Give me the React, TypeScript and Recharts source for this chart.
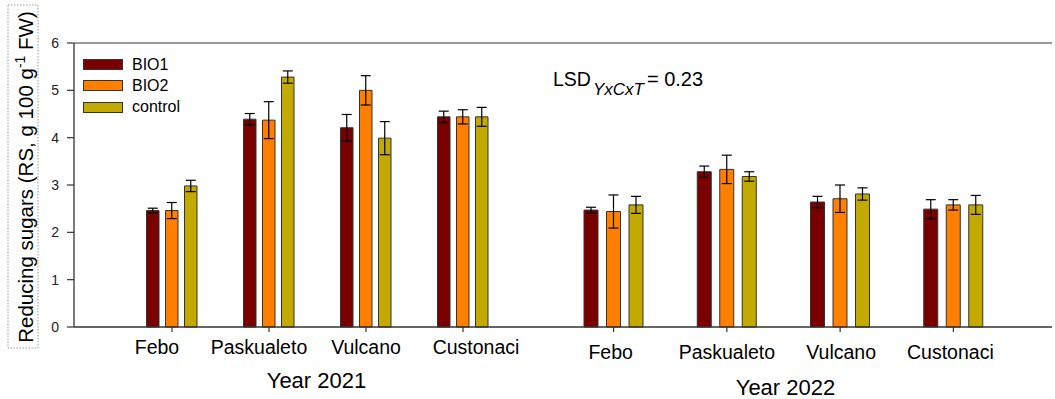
import React from 'react';
import { BarChart, Bar, XAxis, YAxis, ErrorBar, ReferenceLine, Legend, Customized } from 'recharts';

// ---------- data ----------
const categories = ['Febo', 'Paskualeto', 'Vulcano', 'Custonaci'];
const seriesNames = ['BIO1', 'BIO2', 'control'];

const bio1_2021 = [2.46, 4.39, 4.21, 4.44];
const bio1Err_2021 = [0.05, 0.12, 0.28, 0.12];
const bio2_2021 = [2.46, 4.37, 5.0, 4.44];
const bio2Err_2021 = [0.17, 0.39, 0.31, 0.15];
const control_2021 = [2.98, 5.28, 3.99, 4.44];
const controlErr_2021 = [0.12, 0.13, 0.35, 0.2];

const bio1_2022 = [2.47, 3.28, 2.64, 2.49];
const bio1Err_2022 = [0.06, 0.12, 0.12, 0.2];
const bio2_2022 = [2.44, 3.33, 2.71, 2.58];
const bio2Err_2022 = [0.35, 0.3, 0.29, 0.11];
const control_2022 = [2.58, 3.18, 2.81, 2.58];
const controlErr_2022 = [0.18, 0.1, 0.13, 0.2];

const yTicks = [0, 1, 2, 3, 4, 5, 6];
const yearLabels = ['Year 2021', 'Year 2022'];
const lsdValue = '0.23';

// ---------- styles ----------
const COLORS = ['#7a0000', '#ff8000', '#c2aa00'];
const FONT = '"Liberation Sans", Arial, Helvetica, sans-serif';
const AXIS = '#333';
const TICK_NUDGE_2021 = [-15, -10, 0, 13];
const TICK_NUDGE_2022 = [-3, 0, 1, -3];

const build = (b1, e1, b2, e2, c, ec) =>
  categories.map((cat, i) => ({
    cat,
    BIO1: b1[i],
    BIO1err: e1[i],
    BIO2: b2[i],
    BIO2err: e2[i],
    control: c[i],
    controlErr: ec[i],
  }));

const data2021 = build(bio1_2021, bio1Err_2021, bio2_2021, bio2Err_2021, control_2021, controlErr_2021);
const data2022 = build(bio1_2022, bio1Err_2022, bio2_2022, bio2Err_2022, control_2022, controlErr_2022);

const errKeys = ['BIO1err', 'BIO2err', 'controlErr'];

const makeTick = (nudges: number[]) => (props: any) => {
  const { x, y, payload } = props;
  const idx = categories.indexOf(payload.value);
  return (
    <text x={x + (nudges[idx] || 0)} y={y} dy="0.71em" textAnchor="middle" fontSize={19.5} fill="#000" fontFamily={FONT}>
      {payload.value}
    </text>
  );
};

const yearLabel = (text: string, dx: number, offset: number) => (props: any) => {
  const vb = props.viewBox || {};
  return (
    <text x={vb.x + vb.width / 2 + dx} y={vb.y + vb.height - offset} textAnchor="middle" fontSize={22} fill="#000" fontFamily={FONT}>
      {text}
    </text>
  );
};

const yAxisLabel = (props: any) => {
  const vb = props.viewBox || {};
  const cx = 33;
  const cy = vb.y + vb.height / 2 - 8;
  return (
    <g>
      <rect x={8} y={5} width={30} height={343} fill="none" stroke="#999" strokeWidth={1} strokeDasharray="1.5 1.5" />
      <text x={cx} y={cy} transform={`rotate(-90, ${cx}, ${cy})`} textAnchor="middle" fontSize={20.5} fill="#000" fontFamily={FONT}>
        Reducing sugars (RS, g 100 g
        <tspan dy={-8} fontSize={14}>-1</tspan>
        <tspan dy={8}> FW)</tspan>
      </text>
    </g>
  );
};

const renderLegend = () => (
  <div style={{ display: 'flex', flexDirection: 'column', fontFamily: FONT }}>
    {seriesNames.map((n, i) => (
      <div key={n} style={{ display: 'flex', alignItems: 'center', height: 21.3 }}>
        <span
          style={{
            display: 'inline-block',
            width: 40,
            height: 11,
            background: COLORS[i],
            border: '1px solid #333',
            boxSizing: 'border-box',
          }}
        />
        <span style={{ marginLeft: 9, fontSize: 16, color: '#000', lineHeight: '16px' }}>{n}</span>
      </div>
    ))}
  </div>
);

const LsdNote = () => (
  <text x={18} y={86} fontSize={19.5} fill="#000" fontFamily={FONT}>
    LSD
    <tspan dx={2} dy={9} fontSize={17} fontStyle="italic">YxCxT</tspan>
    <tspan dx={3} dy={-9} fontSize={20}>= {lsdValue}</tspan>
  </text>
);

const renderBars = (size: number) =>
  seriesNames.map((n, i) => (
    <Bar key={n} dataKey={n} fill={COLORS[i]} stroke="#333" strokeWidth={1} barSize={size} isAnimationActive={false}>
      <ErrorBar dataKey={errKeys[i]} width={5} stroke="#000" strokeWidth={1.2} direction="y" />
    </Bar>
  ));

export default function App() {
  return (
    <div style={{ position: 'absolute', left: 0, top: 0, width: 1055, height: 399, background: '#fff' }}>
      <div style={{ position: 'absolute', left: 0, top: 0 }}>
        <BarChart width={535} height={399} data={data2021} margin={{ top: 43, right: 0, bottom: 0, left: 0 }} barGap={6.5}>
          <YAxis
            type="number"
            domain={[0, 6]}
            ticks={yTicks}
            width={74}
            tickSize={7}
            tickMargin={8}
            axisLine={{ stroke: AXIS, strokeWidth: 1.3 }}
            tickLine={{ stroke: AXIS, strokeWidth: 1.2 }}
            tick={{ fontSize: 14, fill: '#222', fontFamily: FONT }}
            label={{ content: yAxisLabel }}
          />
          <XAxis
            dataKey="cat"
            type="category"
            interval={0}
            height={72}
            padding={{ left: 49.5, right: 23.5 }}
            tickSize={5}
            tickMargin={8}
            axisLine={{ stroke: AXIS, strokeWidth: 1.3 }}
            tickLine={{ stroke: AXIS, strokeWidth: 1.2 }}
            tick={makeTick(TICK_NUDGE_2021)}
            label={{ content: yearLabel(yearLabels[0], 12, 11) }}
          />
          <ReferenceLine y={6} stroke="#777" strokeWidth={1.6} />
          <Legend
            content={renderLegend}
            layout="vertical"
            align="center"
            verticalAlign="middle"
            wrapperStyle={{ position: 'absolute', left: 83, top: 54, width: 'auto' }}
          />
          {renderBars(12.5)}
        </BarChart>
      </div>
      <div style={{ position: 'absolute', left: 535, top: 0 }}>
        <BarChart width={520} height={399} data={data2022} margin={{ top: 43, right: 3, bottom: 0, left: 0 }} barGap={8.5}>
          <YAxis type="number" domain={[0, 6]} ticks={yTicks} hide />
          <XAxis
            dataKey="cat"
            type="category"
            interval={0}
            height={72}
            padding={{ left: 22, right: 42 }}
            tickSize={5}
            tickMargin={13}
            axisLine={{ stroke: AXIS, strokeWidth: 1.3 }}
            tickLine={{ stroke: AXIS, strokeWidth: 1.2 }}
            tick={makeTick(TICK_NUDGE_2022)}
            label={{ content: yearLabel(yearLabels[1], -8, 4) }}
          />
          <ReferenceLine y={6} stroke="#777" strokeWidth={1.6} />
          <Customized component={LsdNote} />
          {renderBars(14)}
        </BarChart>
      </div>
    </div>
  );
}
